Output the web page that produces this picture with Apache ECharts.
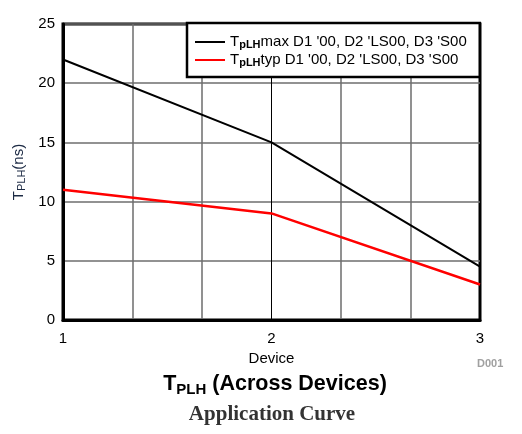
<!DOCTYPE html>
<html>
<head>
<meta charset="utf-8">
<script src="https://cdn.jsdelivr.net/npm/echarts@6/dist/echarts.min.js"></script>
<style>
  html, body { margin: 0; padding: 0; background: #fff; }
  #main { width: 522px; height: 434px; }
</style>
</head>
<body>
<div id="main"></div>
<script>
var devices = [1, 2, 3];
var maxVals = [22, 15, 4.5];   // TpLH max
var typVals = [11, 9, 3];      // TpLH typ
var seriesNames = ['max', 'typ'];
var legendTail = " D1 '00, D2 'LS00, D3 'S00";

var myChart = echarts.init(document.getElementById('main'));
var font = 'Liberation Sans, Arial, sans-serif';

function toPairs (xs, ys) {
  var out = [];
  for (var i = 0; i < xs.length; i++) {
    out.push([xs[i], ys[i]]);
  }
  return out;
}

var option = {
  animation: false,
  textStyle: { fontFamily: font },
  grid: {
    left: 63, right: 42, top: 24, bottom: 114,
    outerBoundsMode: 'none',
    containLabel: false,
    show: true,
    borderColor: '#000',
    borderWidth: 3
  },
  title: [
    {
      text: '{t|T}{s|PLH}{t| (Across Devices)}',
      left: 270, top: 366, textAlign: 'center',
      textStyle: {
        rich: {
          t: { fontSize: 21.5, fontWeight: 'bold', color: '#000', fontFamily: font, lineHeight: 26 },
          s: { fontSize: 15, fontWeight: 'bold', color: '#000', fontFamily: font, verticalAlign: 'bottom', lineHeight: 18, padding: [9, 0, 0, 0] }
        }
      }
    },
    {
      text: 'Application Curve',
      left: 267, top: 399, textAlign: 'center',
      textStyle: { fontSize: 21, fontWeight: 'bold', color: '#333', fontFamily: 'Liberation Serif, Times New Roman, serif' }
    },
    {
      text: 'D001',
      left: 472, top: 353,
      textStyle: { fontSize: 11, fontWeight: 'bold', color: '#a0a0a0', fontFamily: font }
    }
  ],
  legend: {
    orient: 'vertical',
    left: 187, top: 23,
    padding: [10, 13, 9, 8],
    itemGap: 1,
    itemWidth: 30,
    itemHeight: 14,
    backgroundColor: '#fff',
    borderColor: '#000',
    borderWidth: 2.5,
    borderRadius: 0,
    icon: 'path://M0,6 L30,6 L30,8 L0,8 Z',
    data: seriesNames,
    formatter: function (name) {
      return '{t|T}{s|pLH}{n|' + name + legendTail + '}';
    },
    textStyle: {
      rich: {
        t: { fontSize: 15, color: '#000', fontFamily: font, lineHeight: 16 },
        s: { fontSize: 11, fontWeight: 'bold', color: '#000', fontFamily: font, verticalAlign: 'bottom', lineHeight: 12, padding: [6, 0, 0, 0] },
        n: { fontSize: 15, color: '#000', fontFamily: font, lineHeight: 16 }
      }
    }
  },
  xAxis: {
    type: 'value',
    min: 1, max: 3, interval: 1,
    name: 'Device',
    nameLocation: 'middle',
    nameGap: 23,
    nameTextStyle: { fontSize: 15, color: '#000', fontFamily: font },
    axisLine: { show: true, lineStyle: { color: '#000', width: 3 } },
    axisTick: { show: false },
    axisLabel: { fontSize: 15, color: '#000', margin: 11, fontFamily: font },
    splitLine: { show: true, lineStyle: { color: '#000', width: 1 } },
    minorTick: { show: false, splitNumber: 3 },
    minorSplitLine: { show: true, lineStyle: { color: '#6e6e6e', width: 1.5 } }
  },
  yAxis: {
    type: 'value',
    min: 0, max: 25, interval: 5,
    name: '{t|T}{s|PLH}{t|(ns)}',
    nameLocation: 'middle',
    nameGap: 36,
    nameTextStyle: {
      rich: {
        t: { fontSize: 15, color: '#1c2a44', fontFamily: font, lineHeight: 16 },
        s: { fontSize: 11, color: '#1c2a44', fontFamily: font, verticalAlign: 'bottom', lineHeight: 12, padding: [6, 0, 0, 0] }
      }
    },
    axisLine: { show: true, lineStyle: { color: '#000', width: 3 } },
    axisTick: { show: false },
    axisLabel: { fontSize: 15, color: '#000', margin: 8, fontFamily: font },
    splitLine: { show: true, lineStyle: { color: '#6e6e6e', width: 1.5 } }
  },
  series: [
    {
      name: seriesNames[0],
      type: 'line',
      data: toPairs(devices, maxVals),
      symbol: 'none',
      color: '#000',
      lineStyle: { color: '#000', width: 2 }
    },
    {
      name: seriesNames[1],
      type: 'line',
      data: toPairs(devices, typVals),
      symbol: 'none',
      color: '#ff0000',
      lineStyle: { color: '#ff0000', width: 2.5 }
    }
  ]
};

myChart.setOption(option);
</script>
</body>
</html>
